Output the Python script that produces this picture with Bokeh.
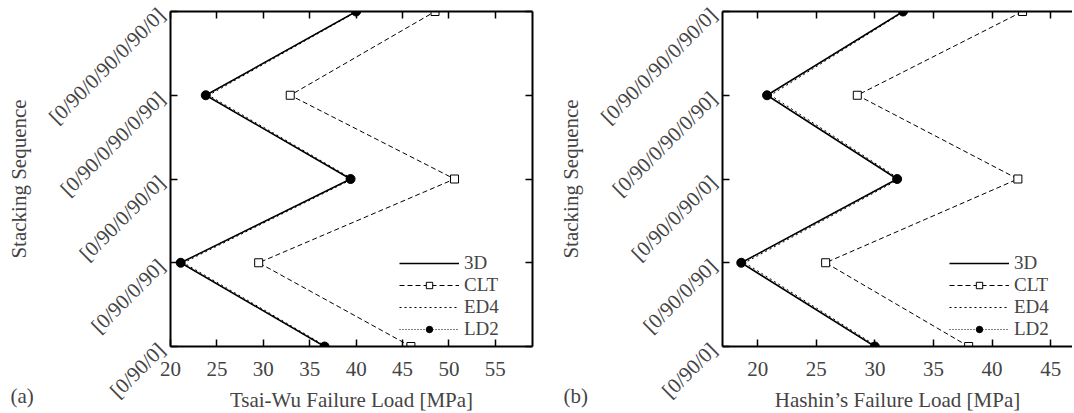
import math
from bokeh.plotting import figure
from bokeh.layouts import row
from bokeh.models import (Range1d, FixedTicker, LinearAxis, Legend, LegendItem, Title)
from bokeh.embed import file_html
from bokeh.resources import INLINE

# ---- data ----
stacks = ["[0/90/0]", "[0/90/0/90]", "[0/90/0/90/0]", "[0/90/0/90/0/90]", "[0/90/0/90/0/90/0]"]
ypos = [0, 1, 2, 3, 4]

tw_3d = [36.6, 21.1, 39.4, 23.8, 40.0]
tw_clt = [45.9, 29.5, 50.6, 32.9, 48.5]
tw_ed4 = [36.8, 21.4, 39.6, 24.1, 40.1]
tw_ld2 = [36.6, 21.1, 39.4, 23.8, 40.0]

ha_3d = [30.0, 18.6, 31.9, 20.8, 32.4]
ha_clt = [38.0, 25.8, 42.2, 28.5, 42.6]
ha_ed4 = [30.2, 18.9, 32.1, 21.1, 32.5]
ha_ld2 = [30.0, 18.6, 31.9, 20.8, 32.4]

tw_ticks = [20, 25, 30, 35, 40, 45, 50, 55]
ha_ticks = [20, 25, 30, 35, 40, 45, 50]

FONT = "Liberation Serif"
FS = "21px"
H = 413


def make_panel(width, xr, xticks, d3, dclt, ded4, dld2, xlabel, tag, tag_offset,
               min_left, min_right, right_border, leg_x):
    p = figure(width=width, height=H, output_backend="svg", toolbar_location=None,
               x_range=Range1d(*xr), y_range=Range1d(0, 4),
               min_border_left=min_left, min_border_right=min_right,
               min_border_top=11, min_border_bottom=67,
               background_fill_color="white", border_fill_color="white")
    p.xgrid.visible = False
    p.ygrid.visible = False
    p.outline_line_color = None

    xt = FixedTicker(ticks=xticks, minor_ticks=[])
    yt = FixedTicker(ticks=ypos, minor_ticks=[])

    for ax in [p.xaxis[0], p.yaxis[0]]:
        ax.axis_line_width = 2
        ax.major_tick_in = 7
        ax.major_tick_out = 0
        ax.minor_tick_in = 0
        ax.minor_tick_out = 0
        ax.major_tick_line_width = 1.5
        ax.major_label_text_font = FONT
        ax.major_label_text_font_size = FS
        ax.axis_label_text_font = FONT
        ax.axis_label_text_font_size = FS
        ax.axis_label_text_font_style = "normal"

    p.xaxis[0].ticker = xt
    p.xaxis[0].major_label_standoff = 15

    p.yaxis[0].ticker = yt
    p.yaxis[0].major_label_overrides = {i: s for i, s in zip(ypos, stacks)}
    p.yaxis[0].major_label_orientation = math.pi / 4
    p.yaxis[0].major_label_standoff = 9
    p.yaxis[0].axis_label = "Stacking Sequence"
    p.yaxis[0].axis_label_standoff = 2

    top = LinearAxis(ticker=xt, axis_line_width=2, major_tick_in=7, major_tick_out=0,
                     minor_tick_in=0, minor_tick_out=0, major_tick_line_width=1.5,
                     major_label_text_font_size="0px", major_label_text_color=None,
                     major_label_standoff=0)
    p.add_layout(top, "above")
    if right_border:
        rt = LinearAxis(ticker=yt, axis_line_width=2, major_tick_in=7, major_tick_out=0,
                        minor_tick_in=0, minor_tick_out=0, major_tick_line_width=1.5,
                        major_label_text_font_size="0px", major_label_text_color=None,
                        major_label_standoff=0)
        p.add_layout(rt, "right")

    r3d = p.line(d3, ypos, line_color="black", line_width=1.5)
    rclt = p.line(dclt, ypos, line_color="black", line_width=1, line_dash="5 3")
    sclt = p.scatter(dclt, ypos, marker="square", size=8, fill_color="white",
                     line_color="black", line_width=1)
    red4 = p.line(ded4, ypos, line_color="black", line_width=1, line_dash="2 3")
    rld2 = p.line(dld2, ypos, line_color="black", line_width=1, line_dash="1 2")
    sld2 = p.scatter(dld2, ypos, marker="circle", size=9, fill_color="black",
                     line_color="black")

    legend = Legend(items=[
        LegendItem(label="3D", renderers=[r3d]),
        LegendItem(label="CLT", renderers=[rclt, sclt]),
        LegendItem(label="ED4", renderers=[red4]),
        LegendItem(label="LD2", renderers=[rld2, sld2]),
    ], location=(leg_x, 6), background_fill_alpha=0, border_line_color=None,
        label_text_font=FONT, label_text_font_size="19px",
        glyph_width=60, glyph_height=16, label_height=16, spacing=0, padding=3, margin=0)
    p.add_layout(legend, "center")

    # axis title and panel tag share the line under the tick labels
    xt_title = Title(text=xlabel, align="center", standoff=-130,
                     text_font=FONT, text_font_size=FS, text_font_style="normal",
                     vertical_align="bottom")
    tag_title = Title(text=tag, align="left", offset=tag_offset, standoff=-122,
                      text_font=FONT, text_font_size=FS, text_font_style="normal",
                      vertical_align="bottom")
    p.below = [xt_title, tag_title] + list(p.below)
    return p


p1 = make_panel(538, (20, 59), tw_ticks, tw_3d, tw_clt, tw_ed4, tw_ld2,
                "Tsai-Wu Failure Load [MPa]", "(a)", -160, 170, 6, True, 229)
p2 = make_panel(534, (17, 46.86), ha_ticks, ha_3d, ha_clt, ha_ed4, ha_ld2,
                "Hashin\u2019s Failure Load [MPa]", "(b)", -159, 184, 0, False, 227)

layout = row(p1, p2)
open("out.html", "w").write(file_html(layout, INLINE))
